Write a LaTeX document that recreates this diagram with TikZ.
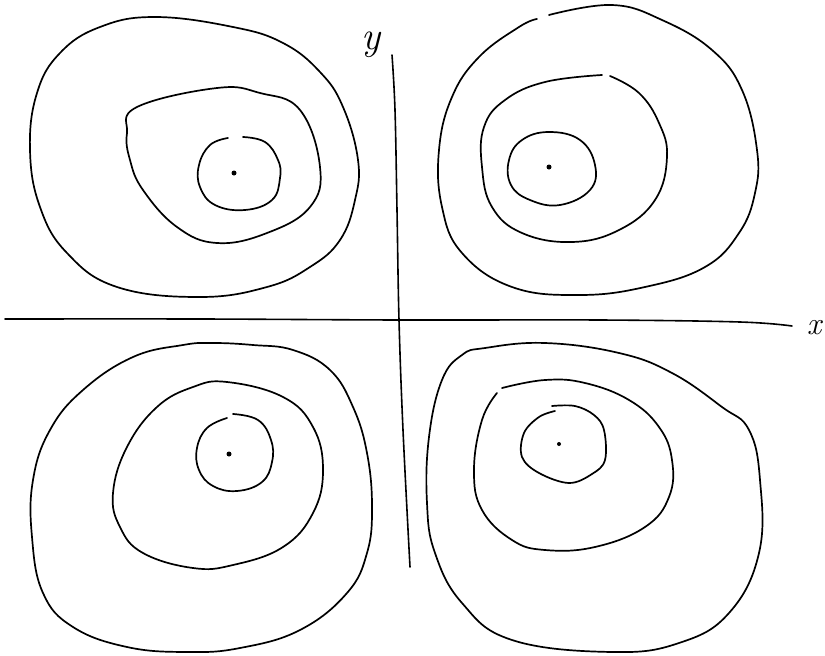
\documentclass[tikz,border=0pt]{standalone}
\usepackage{fontspec}
\begin{document}
\begin{tikzpicture}[x=1pt,y=-1pt,
  contour/.style={line width=1.7pt, line cap=round, line join=round},
  axis/.style={line width=1.6pt, line cap=round},
  centre/.style={circle, fill=black, inner sep=0pt, minimum size=5pt},
  lab/.style={font=\fontsize{40}{40}\selectfont\itshape, inner sep=0pt}]
\useasboundingbox (0,0) rectangle (825,656);
% axes
\draw[axis] plot[smooth, tension=0.6] coordinates {(392,55) (395,110) (397,210) (399,320) (403,430) (410,567)};
\draw[axis] plot[smooth, tension=0.6] coordinates {(5,319) (200,319) (400,320) (600,320) (740,322) (792,326)};
\node[lab] (ylab) at (371,45) {y};
\node[lab, font=\fontsize{32}{32}\selectfont\itshape] (xlab) at (814,328) {x};
% top-left
\draw[contour] plot[smooth cycle, tension=0.7] coordinates {(155,17) (233,27) (283,43) (320,72) (343,107) (358,160) (355,200) (340,240) (310,267) (267,287) (200,297) (117,287) (67,253) (40,207) (30,150) (37,93) (60,53) (100,27)};
\draw[contour] plot[smooth cycle, tension=0.7] coordinates {(217,88) (260,93) (300,110) (320,167) (310,207) (267,233) (217,243) (177,227) (143,190) (130,160) (127,133) (137,107)};
\draw[contour] plot[smooth, tension=0.7] coordinates {(243,137) (265,142) (278,160) (280,178) (272,200) (245,210) (215,205) (200,187) (199,165) (210,145) (228,138)};
\node[centre] (c1) at (234,173) {};
% top-right
\draw[contour] plot[smooth, tension=0.7] coordinates {(549,15) (612,5) (662,20) (712,50) (742,90) (757,150) (755,193) (739,233) (705,267) (645,287) (579,295) (512,287) (462,253) (442,207) (439,150) (452,97) (479,57) (519,27) (537,19)};
\draw[contour] plot[smooth, tension=0.7] coordinates {(610,76) (639,93) (659,123) (667,157) (655,200) (619,230) (572,242) (522,233) (492,207) (482,167) (484,127) (505,100) (545,82) (602,75)};
\draw[contour] plot[smooth cycle, tension=0.7] coordinates {(549,132) (580,140) (595,165) (590,190) (560,205) (530,200) (511,185) (509,160) (522,140)};
\node[centre] (c2) at (549,167) {};
% bottom-left
\draw[contour] plot[smooth cycle, tension=0.7] coordinates {(213,343) (253,345) (293,350) (330,370) (353,407) (367,453) (372,507) (367,553) (347,593) (300,630) (240,648) (187,652) (127,647) (73,627) (43,593) (32,537) (33,480) (50,430) (83,390) (133,357) (183,345)};
\draw[contour] plot[smooth cycle, tension=0.7] coordinates {(227,382) (283,397) (313,427) (323,470) (313,513) (283,547) (233,565) (193,568) (143,553) (120,527) (113,493) (127,447) (157,407) (193,387)};
\draw[contour] plot[smooth, tension=0.7] coordinates {(233,414) (258,420) (271,440) (272,462) (262,482) (237,491) (213,486) (199,470) (197,448) (207,428) (227,418)};
\node[centre] (c3) at (229,454) {};
% bottom-right
\draw[contour] plot[smooth cycle, tension=0.7] coordinates {(545,343) (619,353) (672,373) (722,407) (749,430) (760,480) (759,553) (729,613) (679,643) (612,652) (512,640) (462,603) (435,553) (427,503) (429,437) (442,380) (462,355) (485,348)};
\draw[contour] plot[smooth, tension=0.7] coordinates {(502,388) (545,380) (585,383) (629,400) (659,427) (672,460) (669,497) (645,527) (595,547) (545,550) (512,540) (482,510) (474,470) (482,420) (497,393)};
\draw[contour] plot[smooth, tension=0.6] coordinates {(552,406) (575,406) (594,415) (604,430) (605,460) (592,474) (569,483) (539,473) (522,457) (524,433) (539,417) (555,411)};
\node[centre, minimum size=4pt] (c4) at (559,444) {};
\end{tikzpicture}
\end{document}
